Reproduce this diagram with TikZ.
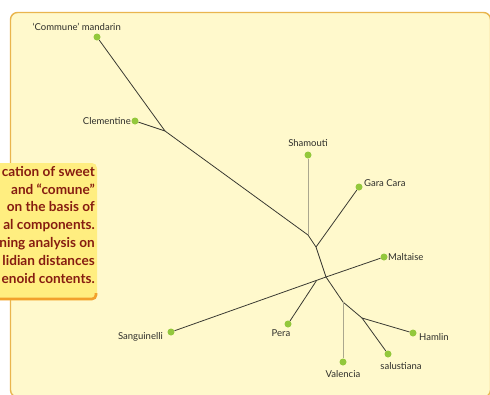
\documentclass[tikz,border=0pt]{standalone}
\usepackage{fontspec}
\setmainfont{Lato}
\usetikzlibrary{positioning,calc}
\definecolor{panelbg}{HTML}{FFF9CC}
\definecolor{panelrim}{HTML}{E9B54E}
\definecolor{capbg}{HTML}{FFEE80}
\definecolor{caprim}{HTML}{F2A12B}
\definecolor{capink}{HTML}{861C10}
\definecolor{leafgreen}{HTML}{93C83C}
\definecolor{branchgray}{HTML}{3A3A32}
\definecolor{twiggray}{HTML}{ABA78E}
\definecolor{labelink}{HTML}{2E2E2A}
\tikzset{
  panel/.style={draw=panelrim,fill=panelbg,line width=1.4pt,rounded corners=7pt},
  captext/.style={align=right,text=capink,inner sep=0pt,
                  font=\fontsize{13.6}{17.8}\selectfont\bfseries},
  leaf/.style={circle,fill=leafgreen,inner sep=0pt,minimum size=7pt},
  leaflabel/.style={text=labelink,inner sep=0pt,font=\fontsize{9.5}{11}\selectfont},
  branch/.style={draw=branchgray,line width=0.8pt},
  twig/.style={draw=twiggray,line width=0.6pt}
}

\begin{document}
\begin{tikzpicture}[x=1pt,y=-1pt]

  % page and panel
  \fill[white] (0,0) rectangle (490,394);
  \useasboundingbox (0,0) rectangle (490,394);
  \draw[panel] (10.5,12.5) rectangle (490.5,397);

  % caption box, cut by the page edge
  \fill[capbg,rounded corners=5pt] (-20,163) rectangle (97,300);
  \draw[caprim,line width=2.6pt,rounded corners=4pt] (-20,299) -- (96,299) -- (96,293);
  \node[captext,anchor=north east] (caption) at (95,166) {%
    cation of sweet\\
    and “comune”\\
    on the basis of\\
    al components.\\
    ning analysis on\\
    lidian distances\\
    enoid contents.};

  % leaves
  \node[leaf] (mandarin)    at (97,37)   {};
  \node[leaf] (clementine)  at (135,121) {};
  \node[leaf] (shamouti)    at (308,155) {};
  \node[leaf] (garacara)    at (359,187) {};
  \node[leaf] (maltaise)    at (384,257) {};
  \node[leaf] (sanguinelli) at (171,332) {};
  \node[leaf] (pera)        at (288,324) {};
  \node[leaf] (hamlin)      at (413,333) {};
  \node[leaf] (salustiana)  at (388,354) {};
  \node[leaf] (valencia)    at (343,362) {};

  % inner forks
  \coordinate (jClem) at (165,131);
  \coordinate (jSham) at (308,235);
  \coordinate (jGara) at (316,247);
  \coordinate (jMid)  at (326,277);
  \coordinate (jPera) at ($(jMid)!0.06!(sanguinelli)$);
  \coordinate (jVal)  at (343,302);
  \coordinate (jHam)  at (362,318);

  % branches
  \draw[branch] (mandarin) -- (jClem);
  \draw[branch] (clementine) -- (jClem);
  \draw[branch] (jClem) -- (jSham) -- (jGara) -- (jMid);
  \draw[twig] (shamouti) -- (jSham);
  \draw[branch] (garacara) -- (jGara);
  \draw[branch] (maltaise) -- (jMid);
  \draw[branch] (jMid) -- (sanguinelli);
  \draw[branch] (pera) -- (jPera);
  \draw[branch] (jMid) -- (jVal) -- (jHam);
  \draw[twig] (valencia) -- (jVal);
  \draw[branch] (hamlin) -- (jHam);
  \draw[branch] (salustiana) -- (jHam);

  % names
  \node[leaflabel,anchor=south east] (mandarinname) at (121,31) {`Commune' mandarin};
  \node[leaflabel,anchor=east] (clementinename) at (131,121) {Clementine};
  \node[leaflabel,anchor=south] (shamoutiname) at (308,147) {Shamouti};
  \node[leaflabel,anchor=west] (garacaraname) at (364,183) {Gara Cara};
  \node[leaflabel,anchor=west] (maltaisename) at (388,257) {Maltaise};
  \node[leaflabel,anchor=east] (sanguinelliname) at (163,337) {Sanguinelli};
  \node[leaflabel] (peraname) at (281,333) {Pera};
  \node[leaflabel,anchor=west] (hamlinname) at (419,337) {Hamlin};
  \node[leaflabel] (salustiananame) at (401,366) {salustiana};
  \node[leaflabel] (valencianame) at (343,374) {Valencia};

\end{tikzpicture}
\end{document}
